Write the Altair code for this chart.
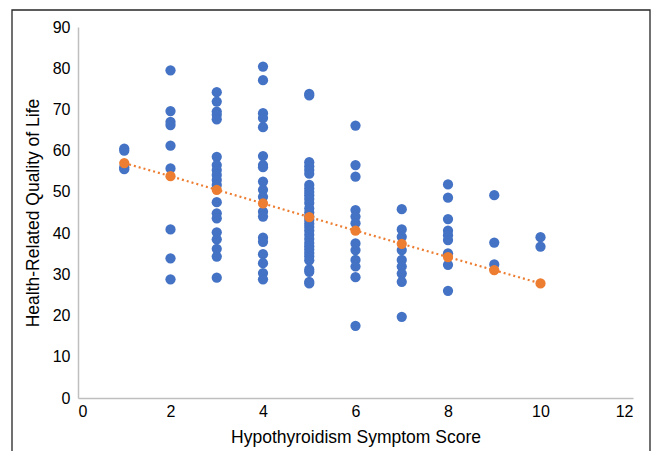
import altair as alt
import pandas as pd

# Blue observations: Health-Related Quality of Life by Hypothyroidism Symptom Score
qol_score_1 = [60.5, 60.0, 56.0, 55.5]
qol_score_2 = [79.5, 69.6, 67.0, 66.2, 61.2, 55.7, 40.9, 33.9, 28.8]
qol_score_3 = [74.2, 71.9, 69.5, 68.7, 67.6, 58.5, 56.5, 55.3, 54.1, 52.9, 51.7,
               47.5, 44.8, 43.6, 40.2, 38.5, 36.2, 34.3, 29.2]
qol_score_4 = [80.4, 77.1, 69.1, 67.9, 65.7, 58.7, 56.5, 56.0, 52.5, 50.5, 48.8,
               45.2, 44.0, 38.9, 37.9, 34.9, 32.7, 30.3, 28.8]
qol_score_5 = [73.8, 73.4, 57.2, 56.2, 55.3, 54.4, 51.7, 50.8, 50.0, 49.2, 48.3,
               47.3, 46.0, 45.0, 44.0, 43.2, 42.3, 41.5, 40.6, 39.6, 38.6, 37.6,
               36.8, 36.0, 35.2, 34.3, 33.4, 31.2, 30.6, 28.2, 27.8]
qol_score_6 = [66.1, 56.5, 53.7, 45.6, 44.0, 42.4, 37.5, 35.9, 33.5, 31.9, 29.3, 17.5]
qol_score_7 = [45.8, 40.9, 39.1, 35.9, 33.5, 31.9, 30.2, 28.2, 19.7]
qol_score_8 = [51.8, 48.6, 43.4, 40.6, 39.5, 38.3, 35.1, 32.3, 26.0]
qol_score_9 = [49.2, 37.7, 32.4]
qol_score_10 = [39.0, 36.7]

# Orange fitted (trend) values
trend_scores = [1, 2, 3, 4, 5, 6, 7, 8, 9, 10]
trend_qol = [57.0, 53.8, 50.5, 47.2, 43.9, 40.6, 37.4, 34.2, 31.0, 27.8]

x_ticks = [0, 2, 4, 6, 8, 10, 12]
y_ticks = [0, 10, 20, 30, 40, 50, 60, 70, 80, 90]

groups = [qol_score_1, qol_score_2, qol_score_3, qol_score_4, qol_score_5,
          qol_score_6, qol_score_7, qol_score_8, qol_score_9, qol_score_10]
rows = []
for s, vals in zip(trend_scores, groups):
    for v in vals:
        rows.append({"score": s, "qol": v})
obs = pd.DataFrame(rows)
trend = pd.DataFrame({"score": trend_scores, "qol": trend_qol})

W, H = 555, 371
FONT = "Liberation Sans"

x_enc = alt.X("score:Q",
              scale=alt.Scale(domain=[0, 12], nice=False, zero=True),
              axis=alt.Axis(values=x_ticks, title="Hypothyroidism Symptom Score",
                            labelPadding=5, titlePadding=9))
y_enc = alt.Y("qol:Q",
              scale=alt.Scale(domain=[0, 90], nice=False),
              axis=alt.Axis(values=y_ticks, title="Health-Related Quality of Life",
                            labelPadding=8, titlePadding=10))

points = alt.Chart(obs).mark_circle(size=105, color="#4472C4", opacity=1).encode(
    x=x_enc, y=y_enc)

trend_line = alt.Chart(trend).mark_line(color="#ED7D31", strokeWidth=2.2,
                                        strokeDash=[2, 3]).encode(
    x="score:Q", y="qol:Q")

trend_pts = alt.Chart(trend).mark_circle(size=105, color="#ED7D31", opacity=1).encode(
    x="score:Q", y="qol:Q")

frame = alt.Chart(pd.DataFrame({"a": [0]})).mark_rect(
    fill=None, stroke="#262626", strokeWidth=1.3).encode(
    x=alt.value(-66), x2=alt.value(572), y=alt.value(-17), y2=alt.value(470))

chart = alt.layer(points, trend_line, trend_pts, frame).properties(
    width=W, height=H,
    autosize=alt.AutoSizeParams(type="none"),
    padding={"left": 70, "top": 19, "right": 18, "bottom": 53},
).configure_view(stroke=None).configure_axis(
    grid=False, ticks=False,
    domainColor="#BFBFBF", domainWidth=1.5,
    labelFont=FONT, labelFontSize=16, labelColor="#000000",
    titleFont=FONT, titleFontSize=17.5, titleColor="#000000", titleFontWeight="normal",
)

chart.save("out.html", embed_options={"renderer": "svg", "actions": False})
